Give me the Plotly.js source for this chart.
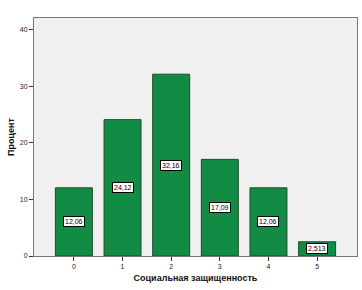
<!DOCTYPE html>
<html><head><meta charset="utf-8">
<script src="https://cdn.plot.ly/plotly-3.0.1.min.js"></script>
<style>html,body{margin:0;padding:0;background:#fff;}</style>
</head><body>
<div id="chart" style="width:362px;height:290px;"></div>
<script>
const categories = ["0","1","2","3","4","5"];
const percents = [12.06, 24.12, 32.16, 17.09, 12.06, 2.513];
const valueLabels = ["12,06","24,12","32,16","17,09","12,06","2,513"];
const yTicks = [0,10,20,30,40];

const annotations = categories.map((c,i)=>({
  x: i, y: percents[i]/2, xref:'x', yref:'y',
  text: valueLabels[i], showarrow:false,
  bgcolor:'#ffffff', bordercolor:'#000000', borderwidth:1, borderpad:1,
  font:{family:'Arial, Liberation Sans', size:7, color:'#000'}
}));

Plotly.newPlot('chart', [{
  type:'bar', x: categories.map((c,i)=>i), y: percents,
  width: 0.76,
  marker:{color:'#128c45', line:{color:'#1d4a2c', width:1}},
  hoverinfo:'none'
}], {
  width:362, height:290,
  margin:{l:34, r:5, t:18, b:34},
  paper_bgcolor:'#ffffff', plot_bgcolor:'#f0f0f0',
  showlegend:false,
  bargap:0.24,
  xaxis:{range:[-0.82,5.82], tickvals:categories.map((c,i)=>i), ticktext:categories,
    ticks:'outside', ticklen:4, tickcolor:'#333', showgrid:false, zeroline:false,
    showline:true, linecolor:'#777', mirror:true, linewidth:1,
    tickfont:{family:'Arial, Liberation Sans', size:7, color:'#222'},
    title:{text:'Социальная защищенность', font:{family:'Arial, Liberation Sans', size:9, color:'#111', weight:'bold'}, standoff:5}},
  yaxis:{range:[0,42.1], tickvals:yTicks, ticks:'outside', ticklen:4, tickcolor:'#333',
    showgrid:false, zeroline:false, showline:true, linecolor:'#777', mirror:true, linewidth:1,
    tickfont:{family:'Arial, Liberation Sans', size:7, color:'#222'},
    title:{text:'Процент', font:{family:'Arial, Liberation Sans', size:9, color:'#111', weight:'bold'}, standoff:3}},
  annotations: annotations
}, {staticPlot:true, displayModeBar:false});
</script>
</body></html>
